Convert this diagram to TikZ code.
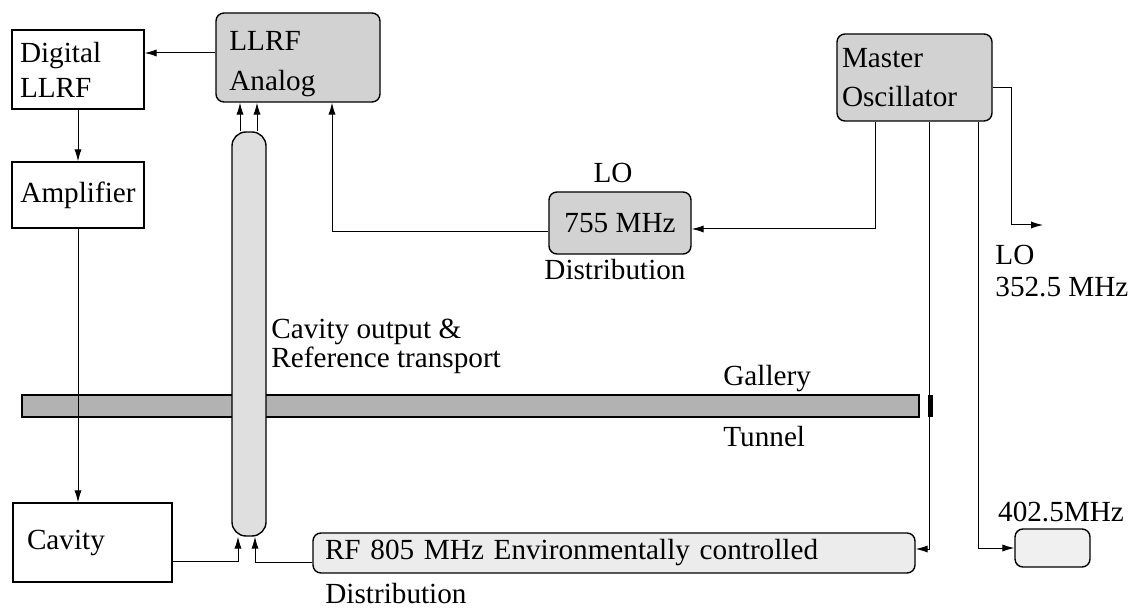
\documentclass[tikz,border=0pt]{standalone}
\usepackage{fontspec}
\setmainfont{Liberation Serif}
\usetikzlibrary{arrows.meta}
\begin{document}
\begin{tikzpicture}[x=0.5pt,y=-0.5pt,
  every node/.style={font=\fontsize{14.6}{17.5}\selectfont},
  plainbox/.style={draw, line width=0.7pt, inner ysep=0pt},
  graybox/.style={draw, line width=0.7pt, fill=gray!35, rounded corners=4pt, inner ysep=0pt},
  lightbox/.style={draw, line width=0.7pt, fill=gray!15, rounded corners=4pt, inner ysep=0pt},
  lbl/.style={inner sep=0pt},
  wire/.style={line width=0.5pt},
  arr/.style={wire, -{Latex[length=6pt,width=3.6pt]}}
]
\useasboundingbox (0,0) rectangle (1134,608);

% gallery / tunnel bar
\node[draw, line width=0.9pt, fill=gray!60, minimum width=448.5pt, minimum height=11pt, inner sep=0pt] (bar) at (470.5,406) {};
\node[lbl, anchor=west] (gal) at (723,379) {Gallery};
\node[lbl, anchor=west] (tun) at (723,437) {Tunnel};

% boxes
\node[plainbox, minimum width=66pt, minimum height=39.5pt, text width=58pt, inner xsep=4pt, align=left] (dig) at (78,69.5) {Digital\\LLRF};
\node[plainbox, minimum width=66pt, minimum height=33pt, align=center] (amp) at (78,195) {Amplifier};
\node[plainbox, minimum width=79.5pt, minimum height=39.5pt, text width=65.5pt, inner xsep=7pt, align=left] (cav) at (92.5,542.5) {Cavity};
\node[graybox, minimum width=82pt, minimum height=44.5pt] (ana) at (298,57.5) {};
\node[lbl, anchor=north west, align=left, font=\fontsize{14.6}{20}\selectfont] (anat) at (229,31) {LLRF\\Analog};
\node[graybox, minimum width=77.5pt, minimum height=43.5pt, text width=72.5pt, inner xsep=2.5pt, align=left, font=\fontsize{14.6}{19.5}\selectfont] (mo) at (914.5,77.5) {Master\\[0pt]Oscillator\\[5pt]};
\node[graybox, minimum width=71pt, minimum height=31pt, align=center] (lo) at (620,223) {755 MHz};
\node[lbl] (lotop) at (613,173) {LO};
\node[lbl] (lodist) at (615,270) {Distribution};

% tube
\node[draw, line width=0.7pt, fill=gray!25, rounded corners=7pt, minimum width=17pt, minimum height=202pt, inner sep=0pt] (tube) at (249,334) {};
\node[lbl, anchor=west, align=left, font=\fontsize{14.6}{14.5}\selectfont] (tubelbl) at (271,346) {Cavity output \&\\Reference transport};

% RF distribution
\node[lightbox, minimum width=301pt, minimum height=20pt, text width=289pt, inner xsep=6pt, align=left] (rf) at (614,553) {RF 805 MHz Environmentally controlled};
\node[lbl, anchor=west] (rfdist) at (325,594) {Distribution};

% 402.5 MHz
\node[lightbox, fill=gray!12, minimum width=37.5pt, minimum height=19pt] (f402) at (1052.5,548) {};
\node[lbl] (f402lbl) at (1061,512) {402.5MHz};

% LO 352.5
\node[lbl, anchor=west] (lo352a) at (995,255) {LO};
\node[lbl, anchor=west] (lo352b) at (995,287) {352.5 MHz};

% helper coordinates
\coordinate (y53) at (0,53);
\coordinate (y561) at (0,561);
\coordinate (y562) at (0,562);
\coordinate (y232) at (0,232);
\coordinate (y229) at (0,229);
\coordinate (y549) at (0,549);
\coordinate (y548) at (0,548);
\coordinate (y88) at (0,88);
\coordinate (x240) at (240,0);
\coordinate (x257) at (257,0);
\coordinate (x332) at (332,0);
\coordinate (x238) at (238,0);
\coordinate (x255) at (255,0);
\coordinate (x875) at (875,0);
\coordinate (x929) at (929,0);
\coordinate (x978) at (978,0);
\coordinate (c1) at (1011,88);
\coordinate (c2) at (1011,225);
\coordinate (loout) at (1043,225);

% connectors
\draw[arr] (ana.west |- y53) -- (dig.east |- y53);
\draw[arr] (dig.south) -- (amp.north);
\draw[arr] (amp.south) -- (amp.south |- cav.north);
\draw[arr] (cav.east |- y561) -- (x238 |- y561) -- (x238 |- tube.south);
\draw[arr] (rf.west |- y562) -- (x255 |- y562) -- (x255 |- tube.south);
\draw[arr] (x240 |- tube.north) -- (x240 |- ana.south);
\draw[arr] (x257 |- tube.north) -- (x257 |- ana.south);
\draw[arr] (lo.west |- y232) -- (x332 |- y232) -- (x332 |- ana.south);
\draw[arr] (x875 |- mo.south) -- (x875 |- y229) -- (lo.east |- y229);
\draw[arr] (x929 |- mo.south) -- (x929 |- y549) -- (rf.east |- y549);
\draw[arr] (x978 |- mo.south) -- (x978 |- y548) -- (f402.west |- y548);
\draw[arr] (mo.east |- y88) -- (c1) -- (c2) -- (loout);

% black cap on the bar line
\fill (928,395) rectangle (933,417);
\end{tikzpicture}
\end{document}
